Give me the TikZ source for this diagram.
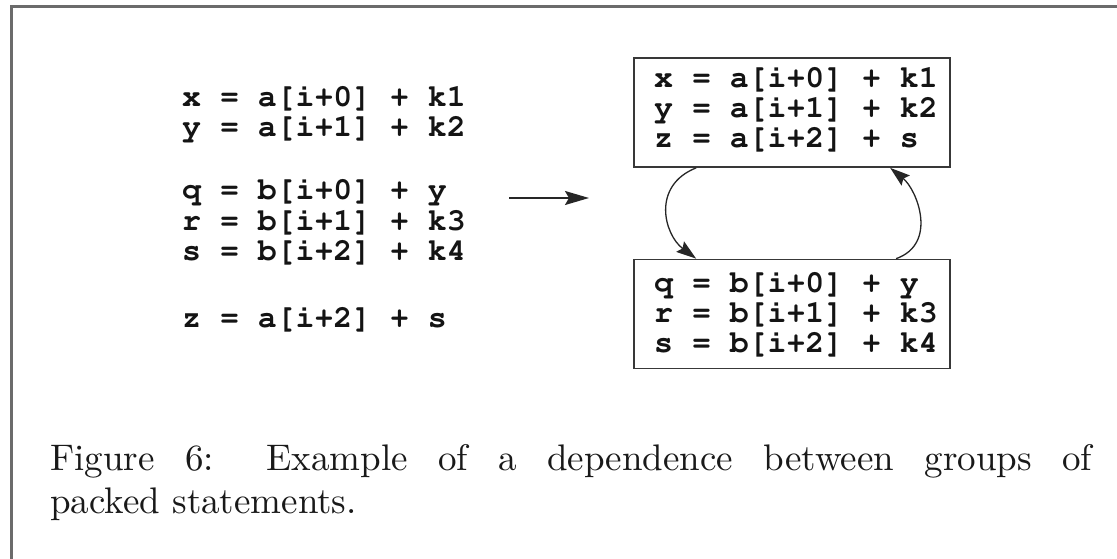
\documentclass[tikz,border=0pt]{standalone}
\usetikzlibrary{arrows.meta}
\font\capfont="[lmroman10-regular.otf]" at 37pt
\newcommand\codefont{\fontencoding{T1}\fontfamily{pcr}\fontseries{b}\fontshape{n}\fontsize{31.5}{30}\selectfont}
\tikzset{
  codeline/.style={anchor=base west, inner sep=0pt, font=\codefont, text=black!92, text height=20pt, text depth=6pt},
  grpbox/.style={draw=black!78, line width=1.7pt, inner sep=0pt, minimum width=316pt, minimum height=109pt},
  capline/.style={anchor=base west, inner sep=0pt, font=\capfont, text=black!90},
  frameline/.style={draw=black!58, line width=3pt},
  deparrow/.style={draw=black!85, line width=1.3pt, -{Stealth[length=20pt,width=13pt,inset=3pt]}},
  mainarrow/.style={draw=black!85, line width=1.7pt, -{Stealth[length=24pt,width=14pt,inset=4pt]}}
}
\begin{document}
\begin{tikzpicture}[x=1pt,y=-1pt]
\useasboundingbox (0,0) rectangle (1117,559);
\fill[white] (0,0) rectangle (1117,559);
\draw[frameline] (11,560) -- (11,6.5) -- (1118,6.5);

% left code
\node[codeline] (l1) at (182,107) {x = a[i+0] + k1};
\node[codeline] (l2) at (182,137) {y = a[i+1] + k2};
\node[codeline] (l3) at (182,200) {q = b[i+0] + y};
\node[codeline] (l4) at (182,230) {r = b[i+1] + k3};
\node[codeline] (l5) at (182,260) {s = b[i+2] + k4};
\node[codeline] (l6) at (182,327) {z = a[i+2] + s};

% main arrow
\coordinate (arrS) at (509,198);
\coordinate (arrE) at (589,198);
\draw[mainarrow] (arrS) -- (arrE);

% boxes
\node[grpbox] (top) at (792,112.5) {};
\node[grpbox] (bot) at (792,314) {};

\node[codeline] (t1) at (654,87.5) {x = a[i+0] + k1};
\node[codeline] (t2) at (654,117.5) {y = a[i+1] + k2};
\node[codeline] (t3) at (654,147.5) {z = a[i+2] + s};

\node[codeline] (b1) at (654,292) {q = b[i+0] + y};
\node[codeline] (b2) at (654,322) {r = b[i+1] + k3};
\node[codeline] (b3) at (654,352) {s = b[i+2] + k4};

% dependence arrows
\path (top.south west) ++(63,0) coordinate (a1);
\path (bot.north west) ++(63,0) coordinate (a2);
\path (bot.north west) ++(263,0) coordinate (c1);
\path (top.south west) ++(257,0) coordinate (c2);
\path (a1) ++(-45,18) coordinate (a1c);
\path (a2) ++(-32,-24) coordinate (a2c);
\path (c1) ++(42,-15) coordinate (c1c);
\path (c2) ++(27,22) coordinate (c2c);
\draw[deparrow] (a1) .. controls (a1c) and (a2c) .. (a2);
\draw[deparrow] (c1) .. controls (c1c) and (c2c) .. (c2);

% caption
\node[capline] (cap1) at (50,470) {\hbox to 1042pt{Figure 6: Example of a dependence between groups of}};
\node[capline] (cap2) at (50,513) {packed statements.};
\end{tikzpicture}
\end{document}
